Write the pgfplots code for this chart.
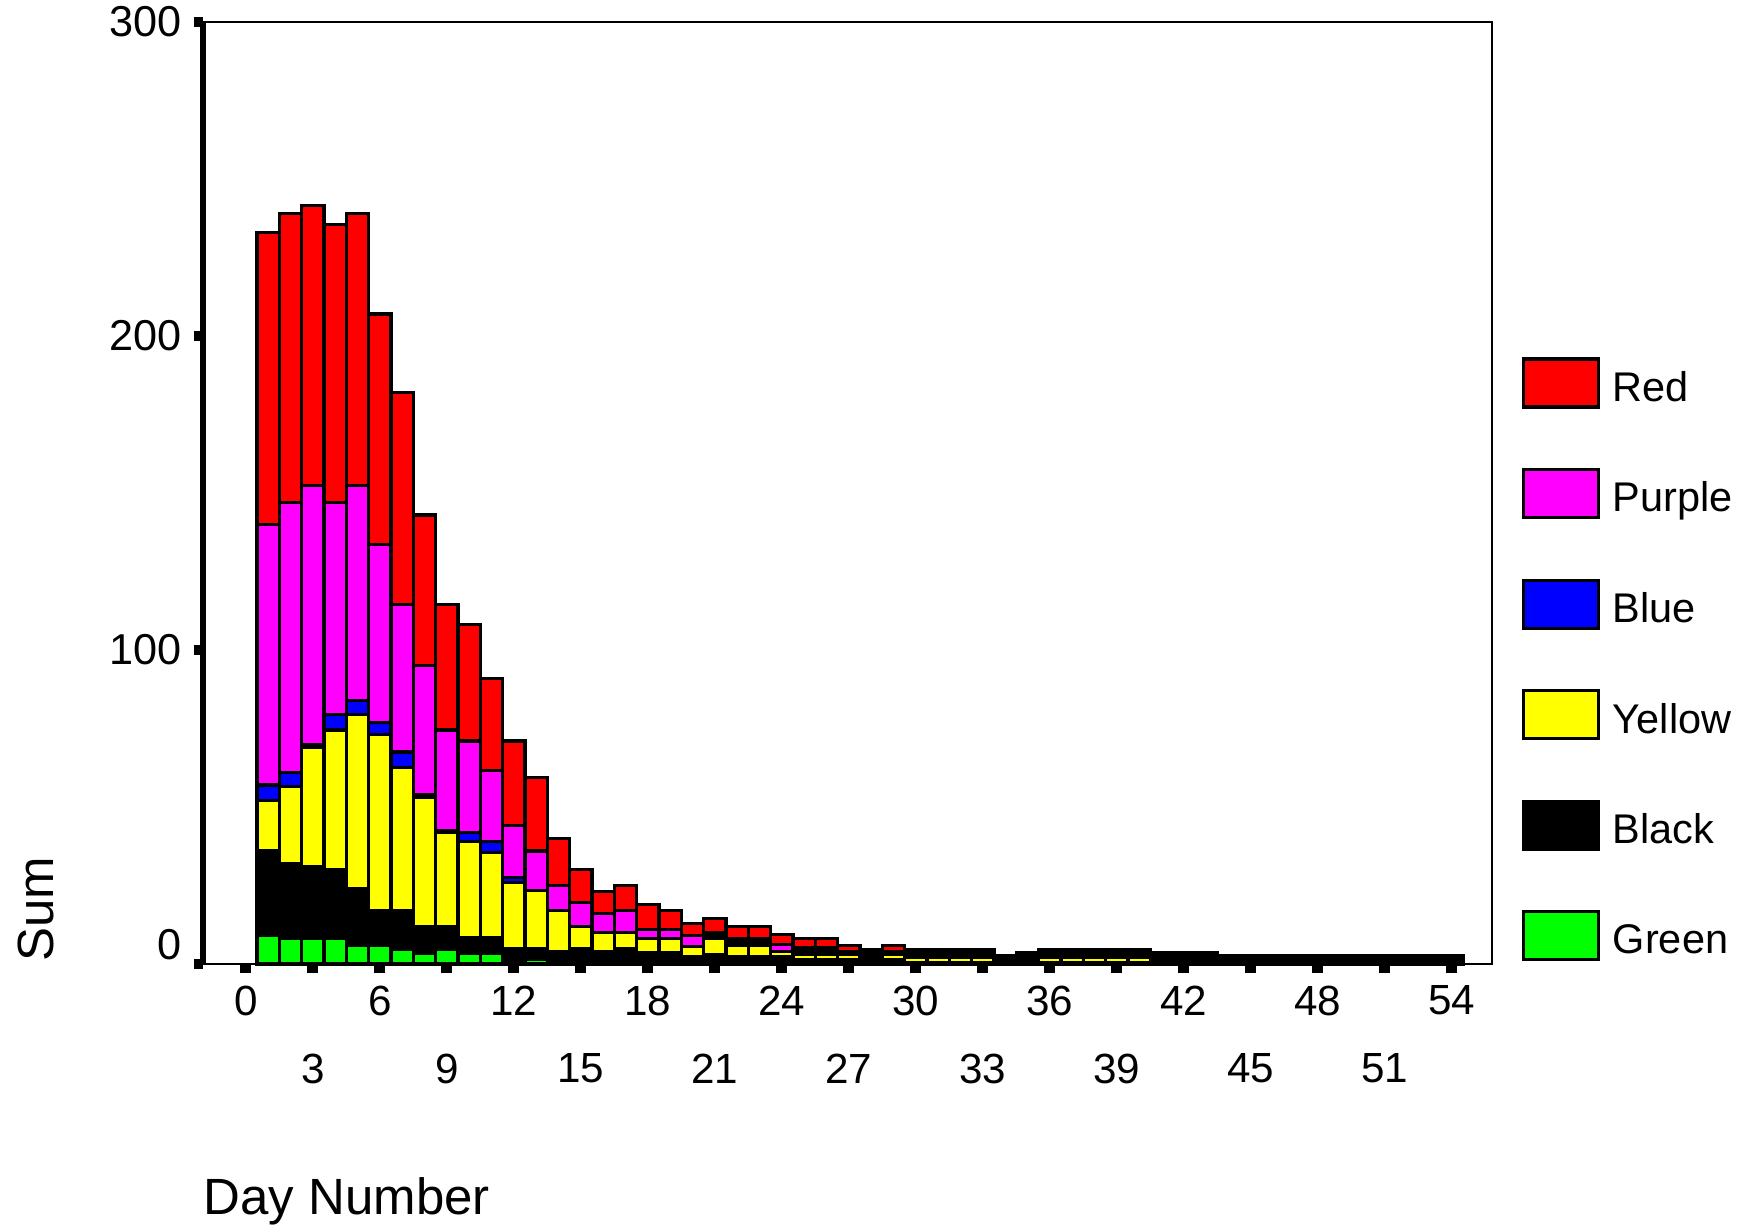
\documentclass[border=0pt]{standalone}
\usepackage{fontspec}
\setmainfont{Liberation Sans}
\usepackage{pgfplots}
\usepackage{pgfplotstable}
\pgfplotsset{compat=1.18}

\definecolor{cRed}{RGB}{255,0,0}
\definecolor{cPurple}{RGB}{255,0,255}
\definecolor{cBlue}{RGB}{0,0,255}
\definecolor{cYellow}{RGB}{255,255,0}
\definecolor{cBlack}{RGB}{0,0,0}
\definecolor{cGreen}{RGB}{0,255,0}

\pgfplotsset{
  mybar/.style={draw=black, fill=#1, line width=0.9pt,
    legend image code/.code={\draw[##1] (0mm,-1.8mm) rectangle (7.5mm,3.0mm);}},
}

% sums per day, stacked bottom to top
\pgfplotstableread{
day green black yellow blue purple red
0   0    0    0    0    0    0
1   9    27   16   5    83   93
2   8    24   24.5 4.5  86   92
3   8    23   38   1    82.5 89
4   8    22   44.5 5    67.5 88.5
5   6    18   55.5 4.5  68.5 86.5
6   6    11   56   4    56.5 73.5
7   4.5  12.5 45.5 5    47   67.5
8   3.5  8.5  41   1    41   48
9   4.5  7.5  30   0.5  32   40
10  3.5  5    30.5 3    29   37
11  3.5  5    27   3.5  22.5 29.5
12  0    5    21   1.5  16.5 27
13  1.5  3.5  18.5 0    12.5 23.5
14  0    4    13   0    8    15
15  0    5    7    0    7.5  10.5
16  0    4    6    0    6    7
17  0    5    5    0    7    8
18  0    3.5  4.5  0    3    8
19  0    3.5  4.5  0    3    6
20  0    2.5  3    0    3.5  4
21  0    3    5    1    1    4.5
22  0    2.5  3.5  1    1    4
23  0    2.5  3.5  1    1    4
24  0    2.5  1.5  0    2.3  3.2
25  0    1.5  1.6  1    1    3
26  0    1.5  1.6  1    1    3
27  0    1.5  1.6  0.4  0.5  2
28  0    4.7  0    0    0    0
29  0    1.5  1.6  0.4  0.5  2
30  0    0.5  1.7  0.8  0.8  0.9
31  0    0.5  1.7  0.8  0.8  0.9
32  0    0.5  1.7  0.8  0.8  0.9
33  0    0.5  1.7  0.8  0.8  0.9
34  0    2.6  0    0    0    0
35  0    3.6  0    0    0    0
36  0    0.5  1.7  0.8  0.8  0.9
37  0    0.5  1.7  0.8  0.8  0.9
38  0    0.5  1.7  0.8  0.8  0.9
39  0    0.5  1.7  0.8  0.8  0.9
40  0    0.5  1.7  0.8  0.8  0.9
41  0    3.7  0    0    0    0
42  0    3.7  0    0    0    0
43  0    3.7  0    0    0    0
44  0    2.6  0    0    0    0
45  0    2.6  0    0    0    0
46  0    2.6  0    0    0    0
47  0    2.6  0    0    0    0
48  0    2.6  0    0    0    0
49  0    2.6  0    0    0    0
50  0    2.6  0    0    0    0
51  0    2.6  0    0    0    0
52  0    2.6  0    0    0    0
53  0    2.6  0    0    0    0
54  0    2.6  0    0    0    0
}\counts

\begin{document}
\begin{tikzpicture}
\useasboundingbox (-2.03cm,-2.63cm) rectangle (15.49cm,9.64cm);
\begin{axis}[
  scale only axis,
  width=12.89cm, height=9.42cm,
  ybar stacked, bar width=1,
  xmin=-1.92, xmax=55.8,
  ymin=0, ymax=300,
  enlargelimits=false,
  clip=false,
  axis line style={line width=0.5pt},
  tick align=outside,
  xtick pos=bottom, ytick pos=left,
  major tick length=2.6pt,
  xtick={0,6,...,54},
  extra x ticks={3,9,...,51},
  extra x tick style={xticklabel style={yshift=-6.8mm}},
  ytick={100,200,300},
  extra y ticks={0},
  extra y tick style={yticklabel style={yshift=5.6pt}},
  xtick style={line width=3.2pt, black},
  ytick style={line width=2.6pt, black},
  /pgf/number format/assume math mode=true,
  tick label style={font=\fontsize{12}{14}\selectfont},
  yticklabel style={font=\fontsize{12.3}{14}\selectfont},
  label style={font=\fontsize{14.5}{17}\selectfont},
  xlabel={Day Number},
  xlabel style={at={(axis description cs:0,-0.252)}, anchor=west, inner sep=0pt},
  ylabel={Sum},
  ylabel style={at={(axis description cs:-0.1296,0.058)}, anchor=center},
  reverse legend,
  legend cell align=left,
  legend style={at={(axis description cs:1.0225,0.6447)}, anchor=north west,
    draw=none, fill=none, inner sep=0pt,
    nodes={inner sep=0pt},
    row sep=5.94mm,
    font=\fontsize{11.8}{14}\selectfont,
    /tikz/every odd column/.append style={column sep=1.3mm}},
]
\addplot[mybar=cGreen]  table[x=day, y=green]  {\counts};
\addplot[mybar=cBlack]  table[x=day, y=black]  {\counts};
\addplot[mybar=cYellow] table[x=day, y=yellow] {\counts};
\addplot[mybar=cBlue]   table[x=day, y=blue]   {\counts};
\addplot[mybar=cPurple] table[x=day, y=purple] {\counts};
\addplot[mybar=cRed]    table[x=day, y=red]    {\counts};
\legend{Green, Black, Yellow, Blue, Purple, Red}
\draw[line width=1.5pt] (rel axis cs:0,0) -- (rel axis cs:0,1);
\end{axis}
\end{tikzpicture}
\end{document}
